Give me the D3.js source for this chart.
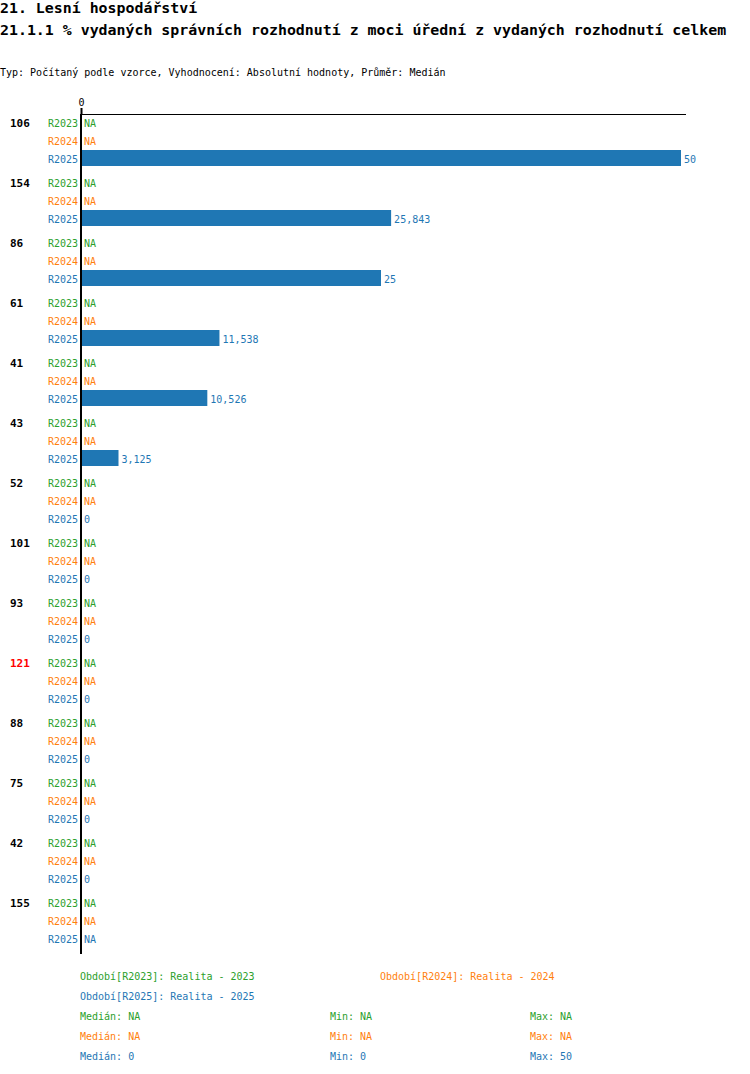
<!DOCTYPE html>
<html>
<head>
<meta charset="utf-8">
<script src="https://cdn.jsdelivr.net/npm/d3@7"></script>
<style>
  body { margin: 0; background: #fff; }
  text { font-family: "DejaVu Sans Mono", "Liberation Mono", monospace; }
</style>
</head>
<body>
<svg id="chart" width="750" height="1074"></svg>
<script>
'use strict';

// data
const groups = ['106', '154', '86', '61', '41', '43', '52', '101', '93', '121', '88', '75', '42', '155'];
const highlighted = ['121'];
const periods = ['R2023', 'R2024', 'R2025'];
const periodNames = ['Realita - 2023', 'Realita - 2024', 'Realita - 2025'];
const valuesR2023 = groups.map(() => null);
const valuesR2024 = groups.map(() => null);
const valuesR2025 = [50, 25.843, 25, 11.538, 10.526, 3.125, 0, 0, 0, 0, 0, 0, 0, null];
const stats = [
  { median: 'NA', min: 'NA', max: 'NA' },
  { median: 'NA', min: 'NA', max: 'NA' },
  { median: '0', min: '0', max: '50' }
];
const xTicks = [0];

const colors = ['#2ca02c', '#ff7f0e', '#1f77b4'];
const series = [valuesR2023, valuesR2024, valuesR2025];

const svg = d3.select('#chart');

const fmt = (v) => v === null ? 'NA' : String(+v.toFixed(3)).replace('.', ',');

// header
svg.append('text').attr('x', 0).attr('y', 13)
  .attr('font-size', 14.9).attr('font-weight', 'bold')
  .text('21. Lesní hospodářství');
svg.append('text').attr('x', 0).attr('y', 35)
  .attr('font-size', 14.9).attr('font-weight', 'bold')
  .text('21.1.1 % vydaných správních rozhodnutí z moci úřední z vydaných rozhodnutí celkem');
svg.append('text').attr('x', 0).attr('y', 76)
  .attr('font-size', 10)
  .text('Typ: Počítaný podle vzorce, Vyhodnocení: Absolutní hodnoty, Průměr: Medián');

// scales
const x = d3.scaleLinear().domain([0, 50]).range([81, 681]);
const yGroup = d3.scaleBand().domain(groups).range([114, 954]);
const yRow = d3.scaleBand().domain(periods).range([0, 54]);

// top axis
const axis = svg.append('g')
  .attr('transform', 'translate(0,114)')
  .call(d3.axisTop(x).tickValues(xTicks).tickSize(6).tickSizeOuter(0));
axis.select('.domain').remove();
axis.selectAll('.tick line').attr('stroke', '#000').attr('stroke-width', 2);
axis.selectAll('.tick text')
  .attr('font-family', '"DejaVu Sans Mono", monospace')
  .attr('font-size', 10).attr('y', -8).attr('dy', 0);

svg.append('line')
  .attr('x1', x(0) - 1).attr('x2', 686)
  .attr('y1', 114.5).attr('y2', 114.5)
  .attr('stroke', '#000').attr('stroke-width', 1);

// rows
const rows = [];
groups.forEach((g, gi) => {
  periods.forEach((p, pi) => {
    rows.push({ group: g, period: p, pi: pi, value: series[pi][gi] });
  });
});

const rowY = (d) => yGroup(d.group) + yRow(d.period);

// group labels
svg.selectAll('.group-label')
  .data(groups)
  .enter()
  .append('text')
  .attr('class', 'group-label')
  .attr('x', 10)
  .attr('y', (g) => yGroup(g) + yRow.bandwidth() / 2)
  .attr('dy', '0.35em')
  .attr('font-size', 11)
  .attr('font-weight', 'bold')
  .attr('fill', (g) => highlighted.includes(g) ? '#ff0000' : '#000')
  .text((g) => g);

// period labels
svg.selectAll('.period-label')
  .data(rows)
  .enter()
  .append('text')
  .attr('class', 'period-label')
  .attr('x', 78)
  .attr('y', (d) => rowY(d) + yRow.bandwidth() / 2)
  .attr('dy', '0.35em')
  .attr('text-anchor', 'end')
  .attr('font-size', 10)
  .attr('fill', (d) => colors[d.pi])
  .text((d) => d.period);

// bars
svg.selectAll('.bar')
  .data(rows.filter((d) => d.value !== null && d.value > 0))
  .enter()
  .append('rect')
  .attr('class', 'bar')
  .attr('x', x(0))
  .attr('y', (d) => rowY(d))
  .attr('width', (d) => x(d.value) - x(0))
  .attr('height', 16)
  .attr('fill', (d) => colors[d.pi]);

// value labels
svg.selectAll('.value-label')
  .data(rows)
  .enter()
  .append('text')
  .attr('class', 'value-label')
  .attr('x', (d) => (d.value === null ? x(0) : x(d.value)) + 3)
  .attr('y', (d) => rowY(d) + yRow.bandwidth() / 2)
  .attr('dy', '0.35em')
  .attr('font-size', 10)
  .attr('fill', (d) => colors[d.pi])
  .text((d) => fmt(d.value));

// vertical zero line
svg.append('line')
  .attr('x1', 81).attr('x2', 81)
  .attr('y1', 114).attr('y2', 954)
  .attr('stroke', '#000').attr('stroke-width', 2);

// legend
const legendPos = [[80, 976], [380, 976], [80, 996]];
periods.forEach((p, i) => {
  svg.append('text')
    .attr('x', legendPos[i][0]).attr('y', legendPos[i][1])
    .attr('dy', '0.35em')
    .attr('font-size', 10)
    .attr('fill', colors[i])
    .text('Období[' + p + ']: ' + periodNames[i]);
});

stats.forEach((s, i) => {
  const y = 1016 + i * 20;
  [[80, 'Medián: ' + s.median], [330, 'Min: ' + s.min], [530, 'Max: ' + s.max]].forEach(([lx, t]) => {
    svg.append('text')
      .attr('x', lx).attr('y', y)
      .attr('dy', '0.35em')
      .attr('font-size', 10)
      .attr('fill', colors[i])
      .text(t);
  });
});
</script>
</body>
</html>
